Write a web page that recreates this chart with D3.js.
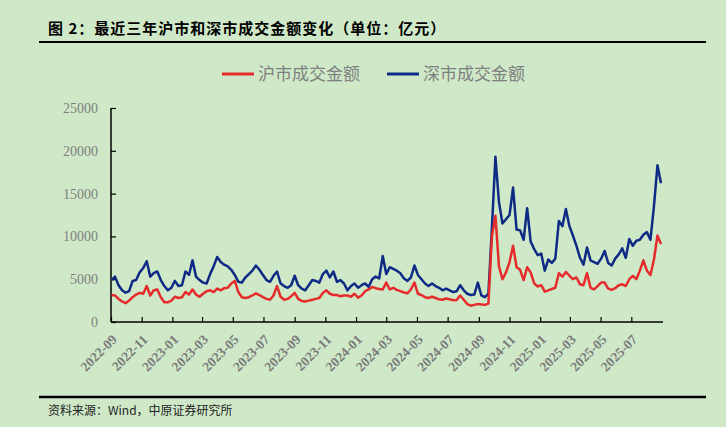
<!DOCTYPE html>
<html>
<head>
<meta charset="utf-8">
<script src="https://cdn.jsdelivr.net/npm/d3@7/dist/d3.min.js"></script>
<style>
  html, body { margin: 0; padding: 0; background: #cfe9c8; }
  svg { display: block; }
</style>
</head>
<body>
<svg id="chart" width="726" height="427"></svg>
<script>
// ---- data (亿元), weekly samples starting 2022-09-02 ----
const startDate = "2022-09-02";
const shValues = [
  3150,3100,2700,2400,2200,2500,2900,3200,3400,3300,4200,3100,3700,3800,2900,2300,2300,2500,2950,2800,
  2900,3500,3200,3800,3200,2950,3300,3600,3700,3500,3900,3700,3950,4000,4500,4800,3500,2900,2800,2900,
  3100,3350,3150,2900,2700,2600,3100,4200,2950,2600,2700,3000,3400,2700,2450,2400,2500,2600,2700,2800,
  3400,3700,3300,3150,3150,3000,3100,3100,2950,3300,2850,3100,3600,3800,4100,3950,3850,3800,4600,3800,
  4000,3750,3600,3450,3350,3800,4600,3300,3150,2900,2800,2950,2800,2650,2600,2750,2650,2550,2570,3100,
  2600,2100,1900,2000,2100,2050,2000,2150,10000,12400,6500,5000,5800,7000,8900,6400,6100,4900,6400,5800,
  4500,4150,4300,3550,3700,3850,4000,5700,5300,5850,5400,5000,5200,4400,4300,5700,4000,3800,4200,4600,
  4600,3900,3750,3950,4300,4400,4200,5000,5400,5000,6000,7200,6000,5500,7300,10100,9100
];
const szValues = [
  4900,5300,4300,3700,3420,3600,4800,4900,5800,6300,7100,5300,5700,5900,4900,4200,3700,4000,4800,4200,
  4300,5900,5500,7200,5300,4900,4600,4500,5600,6500,7600,7000,6700,6500,6100,5500,4700,4600,5200,5600,
  6000,6600,6100,5500,4900,4700,5400,5900,4500,4200,4000,4300,5400,4300,3900,3700,4300,4900,4800,4600,
  5600,6000,5200,5900,4700,4900,4500,3700,4200,4500,4000,4300,4500,4100,5000,5300,5100,7700,5600,6400,
  6200,6000,5700,5100,4800,5200,6600,5500,5000,4500,4200,4500,4200,4000,3700,3900,3700,3500,3600,4300,
  3700,3300,3150,3200,4600,3100,2900,3300,11000,19300,14000,11500,12000,12500,15700,10800,10700,9600,13300,9400,
  8500,7800,8000,6000,7300,6900,7400,11800,11200,13200,11200,10100,8900,7500,6700,8700,7200,7000,6800,7400,
  8300,6900,6600,7400,7900,8600,7500,9700,8900,9500,9600,10200,10500,9600,13500,18300,16200
];
const seriesNames = ["沪市成交金额", "深市成交金额"];
const tickLabels = ["2022-09","2022-11","2023-01","2023-03","2023-05","2023-07","2023-09","2023-11",
  "2024-01","2024-03","2024-05","2024-07","2024-09","2024-11","2025-01","2025-03","2025-05","2025-07"];
const yTicks = [0, 5000, 10000, 15000, 20000, 25000];
const titleText = "图 2：最近三年沪市和深市成交金额变化（单位：亿元）";
const sourceText = "资料来源：Wind，中原证券研究所";

// ---- build ----
const parse = d3.timeParse("%Y-%m-%d");
const parseM = d3.timeParse("%Y-%m");
const t0 = parse(startDate);
const dates = shValues.map((_, i) => d3.timeDay.offset(t0, i * 7));

const svg = d3.select("#chart");
svg.append("rect").attr("width", 726).attr("height", 427).attr("fill", "#cfe9c8");

const x = d3.scaleTime().domain([parseM("2022-09"), parseM("2025-09")]).range([111, 662.5]);
const y = d3.scaleLinear().domain([0, 25000]).range([322, 108]);

const cjk = "Noto Sans CJK SC";
const serif = "Liberation Serif";

// title
svg.append("text").attr("x", 48).attr("y", 34)
  .style("font-family", cjk).style("font-weight", "bold").style("font-size", "15px")
  .style("letter-spacing", "1px")
  .attr("fill", "#000").text(titleText);
svg.append("line").attr("x1", 39).attr("x2", 706).attr("y1", 42).attr("y2", 42)
  .attr("stroke", "#000").attr("stroke-width", 2);

// footer
svg.append("line").attr("x1", 39).attr("x2", 706).attr("y1", 397).attr("y2", 397)
  .attr("stroke", "#000").attr("stroke-width", 2.5);
svg.append("text").attr("x", 48).attr("y", 415)
  .style("font-family", cjk).style("font-size", "12px").attr("fill", "#222").text(sourceText);

// legend
const colors = ["#e52b2b", "#0f2a85"];
const legendX = [222, 387];
seriesNames.forEach((name, i) => {
  svg.append("line").attr("x1", legendX[i]).attr("x2", legendX[i] + 32)
    .attr("y1", 74).attr("y2", 74).attr("stroke", colors[i]).attr("stroke-width", 3);
  svg.append("text").attr("x", legendX[i] + 36).attr("y", 80)
    .style("font-family", cjk).style("font-size", "17px").attr("fill", "#7f7f7f").text(name);
});

// axes
const yAxis = d3.axisRight(y).tickValues(yTicks).tickSize(5).tickFormat(d3.format("d"));
const gy = svg.append("g").attr("transform", "translate(111,0)").call(yAxis);
gy.attr("font-family", serif).attr("font-size", 14);
gy.select(".domain").attr("stroke", "#000").attr("stroke-width", 1.5).attr("d", "M0,108V322");
gy.selectAll(".tick line").attr("stroke", "#000").attr("stroke-width", 1.2);
gy.selectAll(".tick text").attr("x", -13).attr("text-anchor", "end")
  .style("font-family", serif).style("font-size", "14px").attr("fill", "#808080");

const tickDates = tickLabels.map(parseM);
const xAxis = d3.axisTop(x).tickValues(tickDates).tickSize(5).tickFormat(d3.timeFormat("%Y-%m"));
const gx = svg.append("g").attr("transform", "translate(0,322)").call(xAxis);
gx.attr("font-family", serif).attr("font-size", 13.5);
gx.select(".domain").attr("stroke", "#000").attr("stroke-width", 1.5).attr("d", "M111,0H663");
gx.selectAll(".tick line").attr("stroke", "#000").attr("stroke-width", 1.2);
gx.selectAll(".tick text")
  .style("font-family", serif).style("font-size", "13.5px").style("font-weight", "bold").attr("fill", "#7a7a7a")
  .attr("text-anchor", "end").attr("x", 0).attr("y", 0).attr("dy", "0.35em")
  .attr("transform", "translate(3,15) rotate(-45)");

// lines (blue first, red drawn on top)
const line = d3.line().x((d, i) => x(dates[i])).y(d => y(d));
svg.append("path").datum(szValues).attr("fill", "none").attr("stroke", colors[1])
  .attr("stroke-width", 2.5).attr("stroke-linejoin", "round").attr("d", line);
svg.append("path").datum(shValues).attr("fill", "none").attr("stroke", colors[0])
  .attr("stroke-width", 2.5).attr("stroke-linejoin", "round").attr("d", line);
</script>
</body>
</html>
